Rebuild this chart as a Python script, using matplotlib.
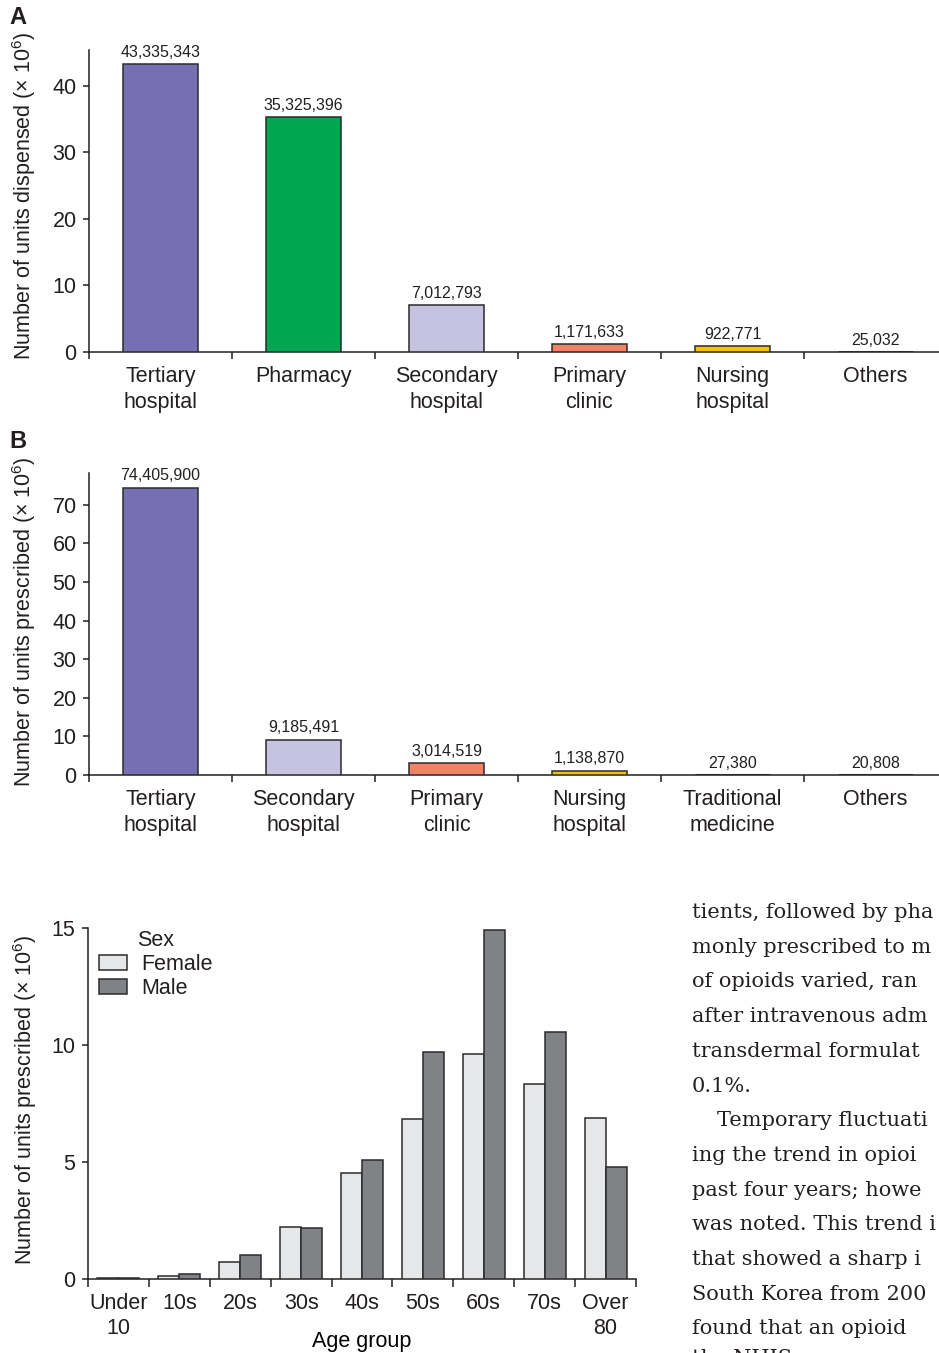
import numpy as np
import matplotlib
matplotlib.use('Agg')
import matplotlib.pyplot as plt

plt.rcParams['font.family'] = ['Liberation Sans', 'DejaVu Sans']
plt.rcParams['mathtext.fontset'] = 'custom'
plt.rcParams['mathtext.rm'] = 'Liberation Sans'
plt.rcParams['mathtext.it'] = 'Liberation Sans'
plt.rcParams['text.color'] = '#231f20'

#%% data
sites_a = ['Tertiary\nhospital', 'Pharmacy', 'Secondary\nhospital', 'Primary\nclinic',
           'Nursing\nhospital', 'Others']
units_a = [43335343, 35325396, 7012793, 1171633, 922771, 25032]

sites_b = ['Tertiary\nhospital', 'Secondary\nhospital', 'Primary\nclinic', 'Nursing\nhospital',
           'Traditional\nmedicine', 'Others']
units_b = [74405900, 9185491, 3014519, 1138870, 27380, 20808]

age_groups = ['Under\n10', '10s', '20s', '30s', '40s', '50s', '60s', '70s', 'Over\n80']
female = [0.05, 0.13, 0.74, 2.21, 4.52, 6.83, 9.60, 8.33, 6.87]
male = [0.06, 0.22, 1.01, 2.18, 5.10, 9.72, 14.90, 10.54, 4.79]

body_lines = ['tients, followed by pha', 'monly prescribed to m', 'of opioids varied, ran',
              'after intravenous adm', 'transdermal formulat', '0.1%.',
              'Temporary fluctuati', 'ing the trend in opioi', 'past four years; howe',
              'was noted. This trend i', 'that showed a sharp i', 'South Korea from 200',
              'found that an opioid', 'the NHIS']

SITE_COLORS = {'Tertiary': '#7670b2', 'Pharmacy': '#00a651', 'Secondary': '#c6c3e0',
               'Primary': '#f08266', 'Nursing': '#f9c20a'}
EDGE = '#2b2b2b'
INK = '#231f20'
FS = 15.5

W, H = 939, 1353
fig = plt.figure(figsize=(W / 100, H / 100), dpi=100)


def px_axes(left, top, right, bottom):
    return fig.add_axes([left / W, 1 - bottom / H, (right - left) / W, (bottom - top) / H])


def style_axes(ax):
    for s in ['top', 'right']:
        ax.spines[s].set_visible(False)
    for s in ['left', 'bottom']:
        ax.spines[s].set_linewidth(1.1)
        ax.spines[s].set_color(INK)
    ax.tick_params(axis='y', length=4, width=1.1, color=INK, labelsize=FS, pad=5, labelcolor=INK)


def site_bars(ax, sites, units, ymax):
    x = np.arange(len(sites))
    vals = np.array(units) / 1e6
    cols = [SITE_COLORS.get(s.split('\n')[0], '#333333') for s in sites]
    lws = [2.2 if v < 0.1 else 1.1 for v in vals]
    ax.bar(x, vals, width=0.53, color=cols, edgecolor=EDGE, linewidth=lws, zorder=3)
    for xi, v, u in zip(x, vals, units):
        ax.annotate(f'{u:,}', (xi, v), xytext=(0, 3), textcoords='offset points',
                    ha='center', va='bottom', fontsize=11.5, color=INK)
    ax.set_xlim(-0.5, (W - 89) / 143 - 0.5)
    ax.set_ylim(0, ymax)
    ax.set_xticks(np.arange(len(sites)) - 0.5)
    ax.set_xticklabels([])
    ax.set_xticks(x, minor=True)
    ax.set_xticklabels(sites, minor=True, fontsize=FS, linespacing=1.3)
    ax.tick_params(axis='x', which='major', length=5, width=1.1, color=INK)
    ax.tick_params(axis='x', which='minor', length=0, pad=10, labelcolor=INK)
    style_axes(ax)


# panel A
ax_a = px_axes(89, 50, W, 352)
site_bars(ax_a, sites_a, units_a, 45.4)
ax_a.set_yticks([0, 10, 20, 30, 40])
fig.text(24 / W, 1 - 196 / H, 'Number of units dispensed (× 10$^{6}$)', rotation=90,
         ha='center', va='center', fontsize=FS)
fig.text(9 / W, 1 - 17 / H, 'A', fontsize=17, fontweight='bold', va='center')

# panel B
ax_b = px_axes(89, 473, W, 775)
site_bars(ax_b, sites_b, units_b, 78.2)
ax_b.set_yticks(np.arange(0, 80, 10))
fig.text(24 / W, 1 - 622 / H, 'Number of units prescribed (× 10$^{6}$)', rotation=90,
         ha='center', va='center', fontsize=FS)
fig.text(9 / W, 1 - 441 / H, 'B', fontsize=17, fontweight='bold', va='center')

# age / sex panel
ax_c = px_axes(88, 928, 636, 1279)
xc = np.arange(len(age_groups))
bw = 0.345
ax_c.bar(xc - bw / 2, female, width=bw, color='#e6e7e9', edgecolor=EDGE, linewidth=1.1,
         label='Female', zorder=3)
ax_c.bar(xc + bw / 2, male, width=bw, color='#808285', edgecolor=EDGE, linewidth=1.1,
         label='Male', zorder=3)
ax_c.set_xlim(-0.5, len(age_groups) - 0.5)
ax_c.set_ylim(0, 15)
ax_c.set_yticks([0, 5, 10, 15])
ax_c.set_xticks(np.arange(len(age_groups) + 1) - 0.5)
ax_c.set_xticklabels([])
ax_c.set_xticks(xc, minor=True)
ax_c.set_xticklabels(age_groups, minor=True, fontsize=FS, linespacing=1.25)
ax_c.tick_params(axis='x', which='major', length=6, width=1.1, color=INK)
ax_c.tick_params(axis='x', which='minor', length=0, pad=10, labelcolor=INK)
style_axes(ax_c)
ax_c.set_xlabel('Age group', fontsize=FS)
ax_c.xaxis.set_label_coords(0.5, -0.148)
fig.text(25 / W, 1 - 1100 / H, 'Number of units prescribed (× 10$^{6}$)', rotation=90,
         ha='center', va='center', fontsize=FS)
ax_c.legend(title='Sex', frameon=False, loc='upper left', bbox_to_anchor=(0.02, 0.995),
            fontsize=FS, title_fontsize=FS, handlelength=1.3, handleheight=0.72,
            handletextpad=0.65, labelspacing=0.15, borderpad=0, borderaxespad=0)

# running text of the page, cut off at the right edge
y0 = 918
for i, line in enumerate(body_lines):
    x0 = 717 if line.startswith('Temporary') else 692
    yb = y0 + 34.7 * i if i < len(body_lines) - 1 else 1364
    fig.text(x0 / W, 1 - yb / H, line, fontsize=15, family='DejaVu Serif',
             color=INK, va='baseline')

fig.savefig('out.png', dpi=100)
